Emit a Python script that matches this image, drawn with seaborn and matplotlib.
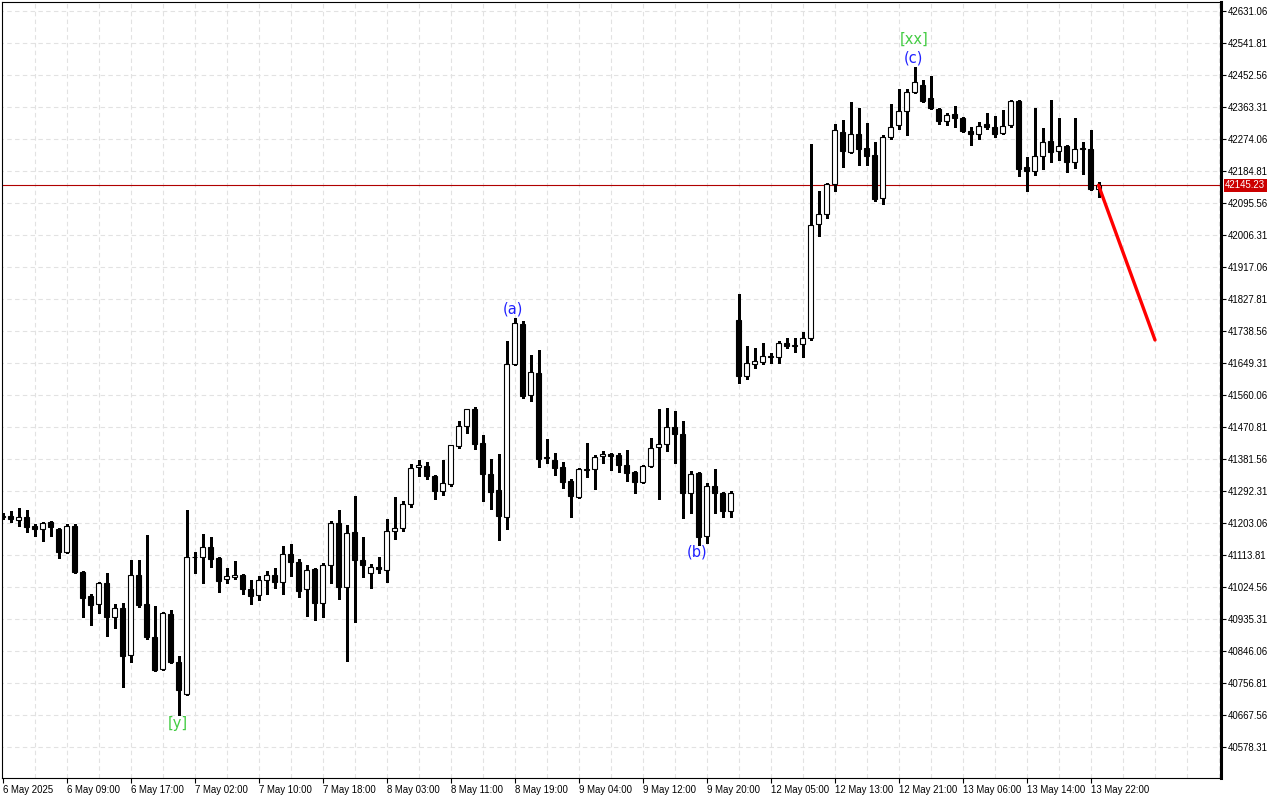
import matplotlib
matplotlib.use("Agg")
import matplotlib.pyplot as plt
import seaborn as sns
import pandas as pd

# hourly candles, 6 May 2025 .. 13 May 2025
opens = [
    41222.6, 41222.6, 41211.4, 41219.8, 41194.7, 41186.3, 41205.8, 41186.3, 41122.2, 41194.7,
    41066.4, 40999.5, 40977.2, 41035.7, 40940.9, 40966.0, 40834.9, 41058.0, 40977.2, 40885.1,
    40795.9, 40949.2, 40815.4, 40726.1, 41108.2, 41108.2, 41136.1, 41105.4, 41046.9, 41052.4,
    41058.0, 41019.0, 41002.2, 41044.1, 41058.0, 41038.5, 41116.6, 41094.3, 41019.0, 41074.7,
    40980.0, 41085.9, 41203.1, 41024.6, 41178.0, 41099.9, 41063.6, 41080.3, 41072.0, 41180.8,
    41189.1, 41256.0, 41359.2, 41362.0, 41334.1, 41292.3, 41311.8, 41417.8, 41473.6, 41521.0,
    41426.2, 41339.7, 41295.1, 41219.8, 41646.5, 41758.1, 41560.1, 41621.4, 41387.1, 41378.7,
    41359.2, 41320.2, 41275.6, 41353.6, 41353.6, 41389.9, 41395.4, 41392.7, 41364.8, 41345.3,
    41317.4, 41362.0, 41415.0, 41423.4, 41470.8, 41451.3, 41286.7, 41342.5, 41166.8, 41306.2,
    41286.7, 41236.5, 41769.2, 41613.0, 41646.5, 41652.1, 41668.8, 41666.0, 41705.1, 41696.7,
    41702.3, 41719.0, 42037.0, 42064.9, 42148.5, 42293.6, 42237.8, 42288.0, 42248.9, 42229.4,
    42109.5, 42279.6, 42313.1, 42352.1, 42405.1, 42424.6, 42388.4, 42357.7, 42324.2, 42343.7,
    42332.6, 42296.3, 42288.0, 42315.9, 42307.5, 42290.8, 42313.1, 42380.0, 42195.9, 42184.8,
    42226.6, 42268.5, 42240.6, 42254.5, 42209.9, 42248.9, 42246.1, 42134.6,
]
highs = [
    41230.9, 41236.5, 41244.9, 41239.3, 41200.3, 41205.8, 41208.6, 41189.1, 41200.3, 41200.3,
    41068.0, 41005.0, 41038.5, 41063.6, 40977.2, 40980.0, 41099.9, 41099.9, 41169.6, 40971.6,
    40954.8, 40960.4, 40832.1, 41239.3, 41122.2, 41172.4, 41164.0, 41108.2, 41077.5, 41097.1,
    41060.8, 41044.1, 41055.2, 41069.2, 41077.5, 41138.9, 41144.5, 41102.6, 41085.9, 41077.5,
    41091.5, 41208.6, 41239.3, 41197.5, 41278.4, 41164.0, 41088.7, 41108.2, 41214.2, 41275.6,
    41264.4, 41367.6, 41378.7, 41373.2, 41336.0, 41378.7, 41422.0, 41487.5, 41522.0, 41526.6,
    41448.5, 41381.5, 41395.4, 41710.6, 41774.8, 41766.4, 41671.6, 41685.5, 41437.3, 41398.3,
    41373.2, 41325.8, 41356.4, 41426.2, 41392.7, 41403.8, 41398.3, 41398.3, 41406.6, 41347.0,
    41364.8, 41440.1, 41521.0, 41523.8, 41515.4, 41487.5, 41348.1, 41345.3, 41314.6, 41353.6,
    41289.5, 41292.3, 41841.7, 41696.7, 41691.1, 41705.1, 41677.2, 41710.6, 41719.0, 41719.0,
    41735.8, 42260.1, 42129.0, 42150.0, 42315.9, 42327.0, 42377.2, 42360.5, 42318.7, 42265.7,
    42285.2, 42371.6, 42413.5, 42413.5, 42474.8, 42438.6, 42449.7, 42360.5, 42346.5, 42366.1,
    42335.4, 42307.5, 42321.4, 42346.5, 42338.2, 42354.9, 42382.0, 42382.8, 42223.8, 42360.5,
    42304.7, 42382.8, 42332.6, 42257.3, 42332.6, 42265.7, 42299.1, 42154.1,
]
lows = [
    41214.2, 41205.8, 41194.7, 41178.0, 41166.8, 41152.8, 41166.8, 41105.4, 41119.4, 41063.6,
    40940.9, 40918.6, 40952.0, 40887.9, 40910.2, 40745.7, 40815.4, 40968.8, 40879.5, 40790.3,
    40793.1, 40812.6, 40667.6, 40723.3, 41063.6, 41035.7, 41080.3, 41010.6, 41035.7, 41046.9,
    41005.0, 40977.2, 40988.3, 41005.0, 41021.8, 41005.0, 41055.2, 40996.7, 40943.7, 40932.5,
    40940.9, 41035.7, 40991.1, 40818.2, 40926.9, 41052.4, 41021.8, 41063.6, 41038.5, 41158.4,
    41180.8, 41247.6, 41334.1, 41325.8, 41270.0, 41281.1, 41306.2, 41412.2, 41454.1, 41409.4,
    41264.4, 41242.1, 41155.6, 41186.3, 41643.7, 41551.7, 41543.3, 41359.2, 41370.4, 41336.9,
    41300.7, 41219.8, 41272.8, 41331.3, 41297.9, 41370.4, 41350.9, 41345.3, 41320.2, 41286.7,
    41314.6, 41359.2, 41270.0, 41403.8, 41370.4, 41217.0, 41230.9, 41141.7, 41147.3, 41230.9,
    41219.8, 41219.8, 41593.5, 41604.7, 41635.3, 41646.5, 41649.3, 41649.3, 41691.1, 41680.0,
    41666.0, 41713.4, 42003.5, 42053.7, 42129.0, 42195.9, 42235.0, 42201.5, 42201.5, 42101.1,
    42092.7, 42274.0, 42301.9, 42285.2, 42402.0, 42377.2, 42358.0, 42315.9, 42313.1, 42307.5,
    42293.6, 42257.3, 42274.0, 42301.9, 42279.6, 42288.0, 42307.5, 42170.8, 42129.0, 42173.6,
    42190.4, 42209.9, 42215.5, 42182.0, 42193.2, 42176.4, 42131.8, 42112.3,
]
closes = [
    41219.8, 41214.2, 41219.8, 41191.9, 41186.3, 41203.1, 41191.9, 41122.2, 41194.7, 41066.4,
    40993.9, 40974.4, 41035.7, 40940.9, 40966.0, 40832.1, 41058.0, 40974.4, 40885.1, 40793.1,
    40952.0, 40815.4, 40737.3, 41108.2, 41107.0, 41136.1, 41102.6, 41041.3, 41055.2, 41058.0,
    41019.0, 40999.5, 41044.1, 41058.0, 41038.5, 41116.6, 41094.3, 41013.4, 41072.0, 40980.0,
    41085.9, 41203.1, 41024.6, 41175.2, 41099.9, 41085.9, 41080.3, 41074.7, 41180.8, 41189.1,
    41256.0, 41356.4, 41364.8, 41334.1, 41292.3, 41314.6, 41420.6, 41473.6, 41521.0, 41423.4,
    41339.7, 41289.5, 41222.6, 41646.5, 41760.9, 41557.3, 41624.2, 41381.5, 41385.0, 41356.4,
    41317.4, 41278.4, 41353.6, 41352.0, 41387.1, 41395.4, 41389.9, 41364.8, 41342.5, 41317.4,
    41362.0, 41412.2, 41423.4, 41470.8, 41451.3, 41286.7, 41339.7, 41164.0, 41306.2, 41286.7,
    41236.5, 41286.7, 41613.0, 41649.3, 41654.9, 41668.8, 41666.0, 41705.1, 41696.7, 41697.5,
    41719.0, 42034.2, 42064.9, 42148.5, 42299.1, 42240.6, 42288.0, 42246.1, 42226.6, 42106.7,
    42279.6, 42307.5, 42352.1, 42405.1, 42433.0, 42380.0, 42360.5, 42324.2, 42340.9, 42332.6,
    42296.3, 42288.0, 42310.3, 42307.5, 42288.0, 42310.3, 42380.0, 42190.4, 42184.8, 42226.6,
    42265.7, 42237.8, 42254.5, 42209.9, 42246.1, 42246.1, 42134.6, 42145.23,
]

time_labels = [
    "6 May 2025", "6 May 09:00", "6 May 17:00", "7 May 02:00", "7 May 10:00", "7 May 18:00",
    "8 May 03:00", "8 May 11:00", "8 May 19:00", "9 May 04:00", "9 May 12:00", "9 May 20:00",
    "12 May 05:00", "12 May 13:00", "12 May 21:00", "13 May 06:00", "13 May 14:00", "13 May 22:00",
]
price_ticks = [
    42631.06, 42541.81, 42452.56, 42363.31, 42274.06, 42184.81, 42095.56, 42006.31,
    41917.06, 41827.81, 41738.56, 41649.31, 41560.06, 41470.81, 41381.56, 41292.31,
    41203.06, 41113.81, 41024.56, 40935.31, 40846.06, 40756.81, 40667.56, 40578.31,
]
last_price = 42145.23

# wave marks
wave_text = ["[y]", "(a)", "(b)", "(c)", "[xx]"]
wave_idx = [21.9, 63.8, 86.8, 113.9, 113.9]
wave_price = [40645.2, 41799.9, 41122.2, 42499.9, 42551.5]
wave_color = ["#44cc44", "#2222ff", "#2222ff", "#2222ff", "#44cc44"]

# forecast line
forecast_x = [137.0, 144.06]
forecast_y = [42145.23, 41713.5]

df = pd.DataFrame({"open": opens, "high": highs, "low": lows, "close": closes})
df["idx"] = range(len(df))
up = df[df["close"] >= df["open"]]
down = df[df["close"] < df["open"]]

sns.set_theme(style="white")
plt.rcParams["font.family"] = ["Liberation Sans", "DejaVu Sans"]

fig = plt.figure(figsize=(12.8, 8), dpi=100)
ax = fig.add_axes([2 / 1280, 22 / 800, 1219 / 1280, 776 / 800])
ax.set_facecolor("white")

ymin, ymax = 40491.86, 42656.16
ax.set_xlim(-0.0625, 152.31)
ax.set_ylim(ymin, ymax)

# grid
grid_x = list(range(4, 153, 4))
ax.vlines(grid_x, ymin, ymax, colors="#e2e2e2", linewidth=0.8,
          linestyles=(0, (4, 3)), zorder=0)
ax.hlines(price_ticks, -1, 153, colors="#e2e2e2", linewidth=0.8,
          linestyles=(0, (4, 3)), zorder=0)

# wicks
ax.vlines(df["idx"], df["low"], df["high"], colors="black", linewidth=0.8,
          zorder=2, antialiased=False)

# bodies
w = 0.6
ax.bar(down["idx"], (down["open"] - down["close"]).clip(lower=1.5), bottom=down["close"],
       width=w, color="black", edgecolor="black", linewidth=0.8, zorder=3)
ax.bar(up["idx"], (up["close"] - up["open"]).clip(lower=1.5), bottom=up["open"],
       width=w, color="white", edgecolor="black", linewidth=0.8, zorder=3)

# current price line
ax.axhline(last_price, color="#b00000", linewidth=0.8, zorder=1)

# forecast arrow
sns.lineplot(x=forecast_x, y=forecast_y, color="#ff0000", linewidth=2.4, ax=ax,
             zorder=5, legend=False)

for t, xi, yp, c in zip(wave_text, wave_idx, wave_price, wave_color):
    ax.text(xi, yp, t, color=c, fontsize=10.5, ha="center", va="center",
            family="DejaVu Sans", zorder=6)

# axes styling
for s in ["left", "top", "bottom"]:
    ax.spines[s].set_color("black")
    ax.spines[s].set_linewidth(0.8)
ax.spines["right"].set_color("black")
ax.spines["right"].set_linewidth(2.2)

ax.yaxis.tick_right()
ax.set_yticks(price_ticks)
ax.set_yticklabels([f"{p:.2f}" for p in price_ticks])
ax.tick_params(axis="y", direction="out", length=3.5, width=0.8, pad=1.5,
               labelsize=6.9, colors="black", right=True, left=False)

ax.set_xticks(list(range(0, 8 * len(time_labels), 8)))
ax.set_xticklabels(time_labels, ha="left")
ax.tick_params(axis="x", direction="out", length=3.5, width=0.8, pad=1.5,
               labelsize=6.9, colors="black", bottom=True)

ax.annotate(f"{last_price:.2f}", xy=(1, last_price), xycoords=("axes fraction", "data"),
            xytext=(4, 0), textcoords="offset pixels", ha="left", va="center",
            fontsize=6.9, color="white", annotation_clip=False,
            bbox=dict(boxstyle="square,pad=0.15", fc="#cc0000", ec="none"))

ax.set_xlabel("")
ax.set_ylabel("")
fig.savefig("out.png", dpi=100)
